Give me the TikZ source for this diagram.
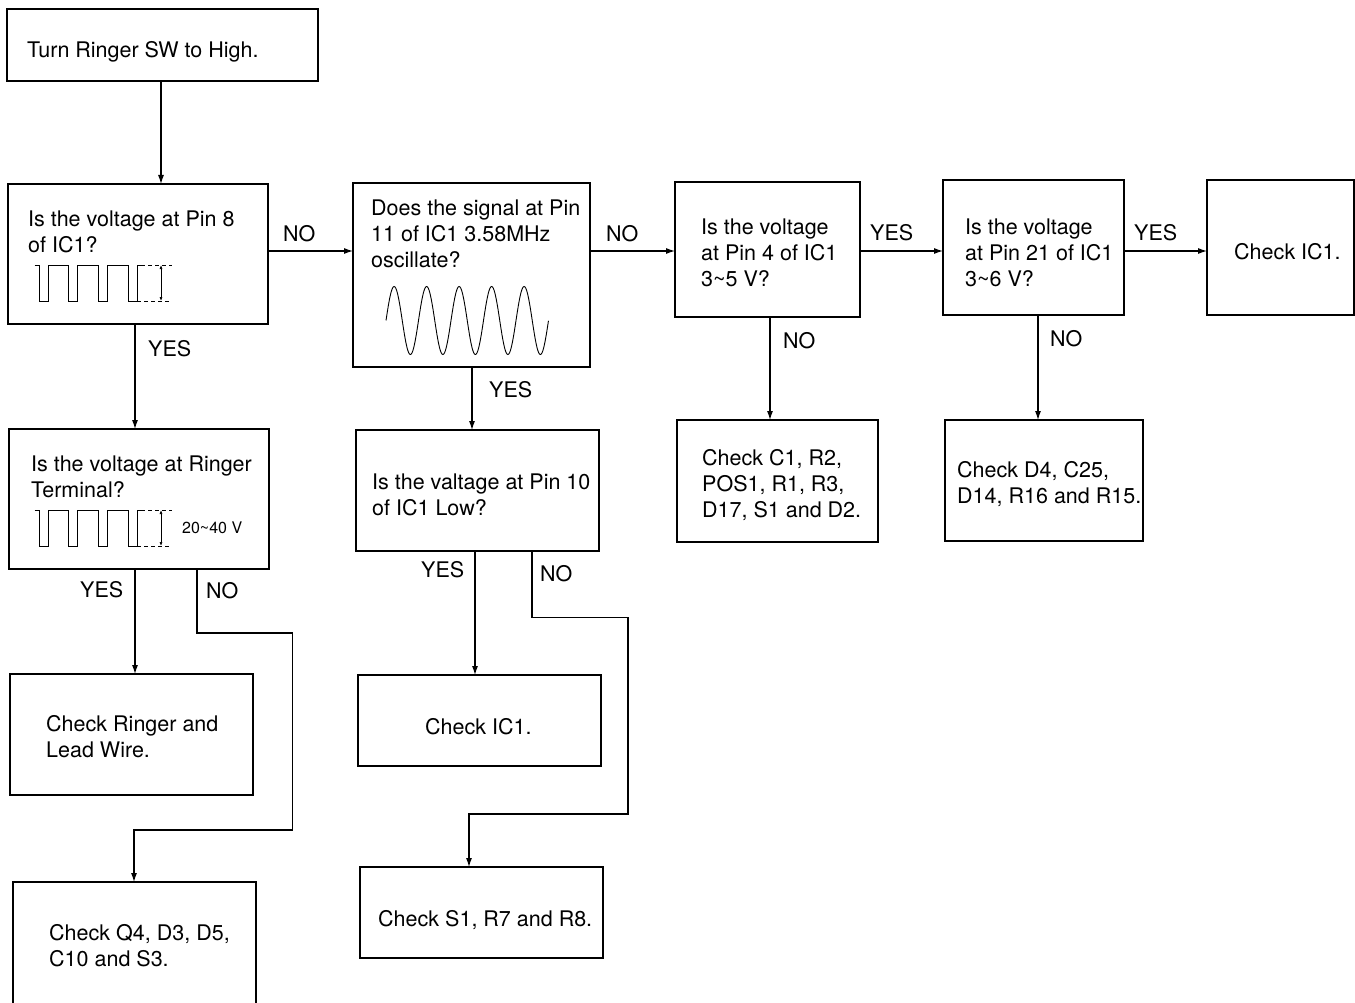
\documentclass[tikz,border=0pt]{standalone}
\usepackage{fontspec}
\setmainfont{TeX Gyre Heros}
\usetikzlibrary{arrows.meta}
\begin{document}
\begin{tikzpicture}[x=1pt,y=-1pt,
  box/.style={draw, line width=1.3pt, anchor=north west, inner sep=0pt, outer sep=0pt},
  txt/.style={anchor=north west, inner sep=0pt, align=left, font=\fontsize{21.5}{26}\selectfont},
  lbl/.style={anchor=north west, inner sep=0pt, font=\fontsize{21.5}{26}\selectfont},
  arr/.style={-{Latex[length=9pt,width=6pt]}, line width=1.1pt},
  wave/.style={line width=0.9pt},
  sqwave/.pic={
    \draw[wave] (0,0)--(5,0)--(5,36)--(13.3,36)--(13.3,0)--(33.3,0)--(33.3,36)--(42.6,36)--(42.6,0)--(63.3,0)--(63.3,36)--(72.6,36)--(72.6,0)--(93.3,0)--(93.3,36)--(102.6,36)--(102.6,0)--(106.3,0);
    \draw[wave, dash pattern=on 4pt off 3pt] (106.3,0)--(137.3,0);
    \draw[wave, dash pattern=on 4pt off 3pt] (102.6,36)--(137.3,36);
    \draw[line width=0.7pt, {Latex[length=4pt,width=3pt]}-{Latex[length=4pt,width=3pt]}] (126.3,0)--(126.3,36);
  }]
\useasboundingbox (0,0) rectangle (1355,1003);
\clip (0,0) rectangle (1355,1003);

% boxes
\node[box, minimum width=311pt, minimum height=72pt] (A) at (7,9) {};
\node[box, minimum width=260pt, minimum height=140pt] (B) at (8,184) {};
\node[box, minimum width=260pt, minimum height=140pt] (C) at (9,429) {};
\node[box, minimum width=243pt, minimum height=121pt] (D) at (10,674) {};
\node[box, minimum width=243pt, minimum height=140pt] (E) at (13,882) {};
\node[box, minimum width=237pt, minimum height=184pt] (F) at (353,183) {};
\node[box, minimum width=243pt, minimum height=121pt] (G) at (356,430) {};
\node[box, minimum width=243pt, minimum height=91pt] (H) at (358,675) {};
\node[box, minimum width=243pt, minimum height=91pt] (I) at (360,867) {};
\node[box, minimum width=185pt, minimum height=135pt] (J) at (675,182) {};
\node[box, minimum width=181pt, minimum height=135pt] (K) at (943,180) {};
\node[box, minimum width=147pt, minimum height=135pt] (L) at (1207,180) {};
\node[box, minimum width=201pt, minimum height=122pt] (M) at (677,420) {};
\node[box, minimum width=198pt, minimum height=121pt] (N) at (945,420) {};

% texts
\node[txt] (tA) at (27,41.5) {Turn Ringer SW to High.};
\node[txt] (tB) at (28,211) {Is the voltage at Pin 8\\of IC1?};
\node[txt] (tC) at (31,456) {Is the voltage at Ringer\\Terminal?};
\node[txt] (tD) at (46,715.5) {Check Ringer and\\Lead Wire.};
\node[txt] (tE) at (49,924.5) {Check Q4, D3, D5,\\C10 and S3.};
\node[txt] (tF) at (371,200) {Does the signal at Pin\\11 of IC1 3.58MHz\\oscillate?};
\node[txt] (tG) at (372,473.5) {Is the valtage at Pin 10\\of IC1 Low?};
\node[txt] (tH) at (425,718.5) {Check IC1.};
\node[txt] (tI) at (378,910.5) {Check S1, R7 and R8.};
\node[txt] (tJ) at (701,218.5) {Is the voltage\\at Pin 4 of IC1\\3\textasciitilde 5 V?};
\node[txt] (tK) at (965,218.5) {Is the voltage\\at Pin 21 of IC1\\3\textasciitilde 6 V?};
\node[txt] (tL) at (1234,243) {Check IC1.};
\node[txt] (tM) at (702,449.5) {Check C1, R2,\\POS1, R1, R3,\\D17, S1 and D2.};
\node[txt] (tN) at (957,461.5) {Check D4, C25,\\D14, R16 and R15.};
\node[anchor=west, inner sep=0pt, font=\fontsize{16}{19}\selectfont] (tV) at (182,528) {20\textasciitilde 40 V};

% waveforms
\pic at (34.7,265) {sqwave};
\pic at (34.7,510) {sqwave};
\draw[wave] plot[domain=0:5, samples=201] ({386+32.5*\x},{320.5-34*sin(360*\x)});

% connectors
\draw[arr] ([xshift=154pt]A.south west) -- ([xshift=153pt]B.north west);
\draw[arr] ([xshift=127pt]B.south west) -- ([xshift=126pt]C.north west);
\draw[arr] ([xshift=126pt]C.south west) -- ([xshift=125pt]D.north west);
\draw[arr] ([xshift=188pt]C.south west) -- ++(0,64) -- ++(95.7,0) -- ++(0,197) -| ([xshift=121pt]E.north west);
\draw[arr] ([yshift=-67pt]B.north east) -- ([yshift=-68pt]F.north west);
\draw[arr] ([xshift=119pt]F.south west) -- ([xshift=116pt]G.north west);
\draw[arr] ([xshift=119pt]G.south west) -- ([xshift=117pt]H.north west);
\draw[arr] ([xshift=176pt]G.south west) -- ++(0,66.7) -- ++(96,0) -- ++(0,196.3) -| ([xshift=109pt]I.north west);
\draw[arr] ([yshift=-68pt]F.north east) -- ([yshift=-69pt]J.north west);
\draw[arr] ([yshift=-69pt]J.north east) -- ([yshift=-71pt]K.north west);
\draw[arr] ([yshift=-71pt]K.north east) -- ([yshift=-71pt]L.north west);
\draw[arr] ([xshift=95pt]J.south west) -- ([xshift=93pt]M.north west);
\draw[arr] ([xshift=95pt]K.south west) -- ([xshift=93pt]N.north west);

% labels
\node[lbl] (lBF) at (283,225.5) {NO};
\node[lbl] (lBC) at (148,340.5) {YES};
\node[lbl] (lFG) at (489,381.5) {YES};
\node[lbl] (lFJ) at (606,225.5) {NO};
\node[lbl] (lJK) at (870,224.5) {YES};
\node[lbl] (lKL) at (1134,224.5) {YES};
\node[lbl] (lJM) at (783,332.5) {NO};
\node[lbl] (lKN) at (1050,330.5) {NO};
\node[lbl] (lCD) at (80,581.5) {YES};
\node[lbl] (lCE) at (206,582.5) {NO};
\node[lbl] (lGH) at (421,561.5) {YES};
\node[lbl] (lGI) at (540,565.5) {NO};
\end{tikzpicture}
\end{document}
